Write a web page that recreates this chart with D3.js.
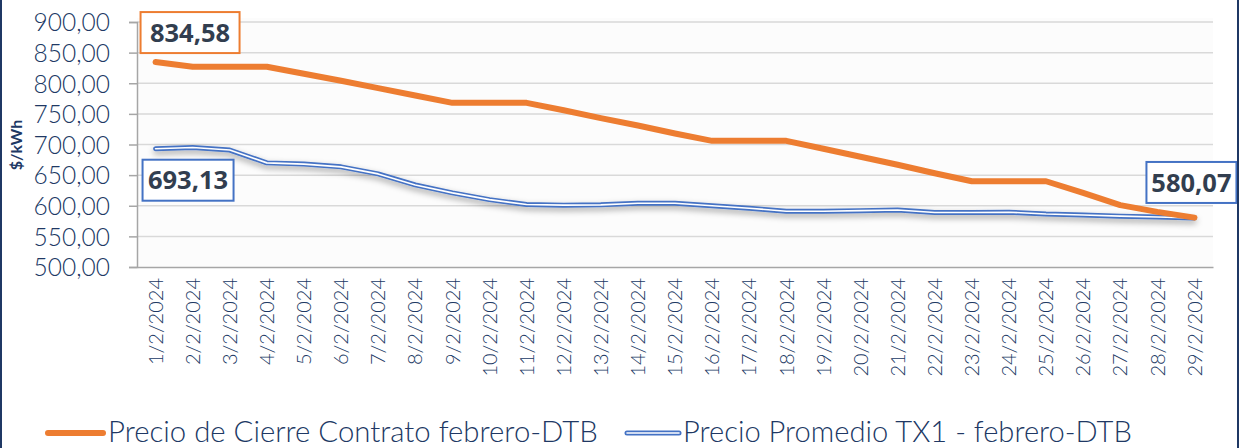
<!DOCTYPE html>
<html><head><meta charset="utf-8">
<script src="https://cdn.jsdelivr.net/npm/d3@7/dist/d3.min.js"></script>
<style>html,body{margin:0;padding:0;background:#fff;}svg{display:block;}</style>
</head><body>
<svg id="chart" width="1241" height="448"></svg>
<script>
const dates = ["1/2/2024","2/2/2024","3/2/2024","4/2/2024","5/2/2024","6/2/2024","7/2/2024","8/2/2024","9/2/2024","10/2/2024","11/2/2024","12/2/2024","13/2/2024","14/2/2024","15/2/2024","16/2/2024","17/2/2024","18/2/2024","19/2/2024","20/2/2024","21/2/2024","22/2/2024","23/2/2024","24/2/2024","25/2/2024","26/2/2024","27/2/2024","28/2/2024","29/2/2024"];
const cierre = [834.58,827,827,827,815.5,804,792,780,768,768,768,756,743,731,718,706,706,706,693,680,667,653,640,640,640,621,601,590,580.6];
const promedio = [693.13,695,691,670,668,663.5,652,634,621,610,602,601,601.5,604,604,600,596,591,591,592,593,589,589,589.5,586.5,585,583,581.7,580.07];
const yTicks = [500,550,600,650,700,750,800,850,900];
const seriesNames = ["Precio de Cierre Contrato febrero-DTB","Precio Promedio TX1 - febrero-DTB"];
const labels = [
  {series:0, idx:0, text:"834,58"},
  {series:1, idx:0, text:"693,13"},
  {series:1, idx:28, text:"580,07"}
];

(function(){
const svg = d3.select("#chart");
const navy = "#203864";
const orange = "#ED7D31";
const blue = "#4472C4";
const fmt = v => d3.format(".2f")(v).replace(".", ",");

const pL = 137, pR = 1213, pT = 22, pB = 267;
const x = d3.scaleBand().domain(dates).range([pL, pR]).padding(0);
const y = d3.scaleLinear().domain([500, 900]).range([pB, pT]);
const cx = d => x(d) + x.bandwidth()/2;

const defs = svg.append("defs");
const f = defs.append("filter").attr("id","sh").attr("x","-10%").attr("y","-50%").attr("width","120%").attr("height","200%");
f.append("feDropShadow").attr("dx",0).attr("dy",3).attr("stdDeviation",3).attr("flood-color","#000").attr("flood-opacity",0.35);

svg.append("rect").attr("x",pL).attr("y",pT-4).attr("width",pR-pL).attr("height",pB-pT+4).attr("fill","#fcfcfc");

svg.append("g").selectAll("line").data(yTicks.filter(t=>t>500)).join("line")
  .attr("x1",pL).attr("x2",pR).attr("y1",d=>y(d)).attr("y2",d=>y(d))
  .attr("stroke","#d9d9d9").attr("stroke-width",1.5);

const yAxis = d3.axisLeft(y).tickValues(yTicks).tickSize(8).tickFormat(fmt);
const gy = svg.append("g").attr("transform",`translate(${pL},0)`).call(yAxis);
gy.select(".domain").attr("stroke","#a6a6a6").attr("stroke-width",1.5);
gy.selectAll(".tick line").attr("stroke","#a6a6a6").attr("stroke-width",1.5);
gy.selectAll(".tick text").attr("x",-27).attr("dy","0.36em").attr("fill",navy)
  .style("font-family","Lato").style("font-weight","300").style("font-size","24.5px");

const xAxis = d3.axisBottom(x).tickSize(0);
const gx = svg.append("g").attr("transform",`translate(0,${pB})`).call(xAxis);
gx.select(".domain").attr("stroke","#a6a6a6").attr("stroke-width",1.5);
gx.selectAll(".tick text")
  .attr("transform","translate(0,11) rotate(-90)")
  .attr("text-anchor","end").attr("x",0).attr("y",0).attr("dy","0.36em")
  .attr("fill",navy).style("font-family","Lato").style("font-weight","300").style("font-size","20px");

svg.append("text").attr("transform","translate(22,145) rotate(-90)")
  .attr("text-anchor","middle").attr("fill",navy)
  .style("font-family","Lato").style("font-weight","bold").style("font-size","16px")
  .text("$/kWh");

const line = d3.line().x((d,i)=>cx(dates[i])).y(d=>y(d));

const gb = svg.append("g").attr("filter","url(#sh)");
gb.append("path").datum(promedio).attr("d",line).attr("fill","none")
  .attr("stroke",blue).attr("stroke-width",5).attr("stroke-linecap","round").attr("stroke-linejoin","round");
svg.append("path").datum(promedio).attr("d",line).attr("fill","none")
  .attr("stroke","#fff").attr("stroke-width",1.6).attr("stroke-linecap","round").attr("stroke-linejoin","round");

svg.append("path").datum(cierre).attr("d",line).attr("fill","none")
  .attr("stroke",orange).attr("stroke-width",6).attr("stroke-linecap","round").attr("stroke-linejoin","round");

const series = [cierre, promedio];
const boxes = [
  {dx:-15, dy:-50, w:99, h:41},
  {dx:-13, dy:11, w:91, h:41},
  {dx:-48, dy:-56, w:90, h:41}
];
labels.forEach((l,i)=>{
  const px = cx(dates[l.idx]), py = y(series[l.series][l.idx]);
  const b = boxes[i];
  const col = l.series===0 ? orange : blue;
  svg.append("rect").attr("x",px+b.dx).attr("y",py+b.dy).attr("width",b.w).attr("height",b.h)
    .attr("fill","#fff").attr("stroke",col).attr("stroke-width",2);
  svg.append("text").attr("x",px+b.dx+b.w/2).attr("y",py+b.dy+b.h/2).attr("dy","0.36em")
    .attr("text-anchor","middle").attr("fill","#323e4f")
    .style("font-family","Open Sans").style("font-weight","bold").style("font-size","25.5px")
    .text(l.text);
});

function fitText(x0, baseline, txt, width){
  const t = svg.append("text").attr("x",0).attr("y",0).attr("fill",navy)
    .style("font-family","Lato").style("font-weight","300").style("font-size","28.5px").text(txt);
  const w = t.node().getComputedTextLength();
  t.attr("transform",`translate(${x0},${baseline}) scale(${width/w},1)`);
}
const ly = 433;
svg.append("line").attr("x1",48).attr("x2",103).attr("y1",ly).attr("y2",ly)
  .attr("stroke",orange).attr("stroke-width",6).attr("stroke-linecap","round");
fitText(108, 442, seriesNames[0], 490);
svg.append("line").attr("x1",627).attr("x2",679).attr("y1",ly).attr("y2",ly)
  .attr("stroke",blue).attr("stroke-width",5).attr("stroke-linecap","round");
svg.append("line").attr("x1",627).attr("x2",679).attr("y1",ly).attr("y2",ly)
  .attr("stroke","#fff").attr("stroke-width",1.6).attr("stroke-linecap","round");
fitText(683, 442, seriesNames[1], 449);

svg.append("line").attr("x1",1).attr("x2",1).attr("y1",0).attr("y2",448).attr("stroke","#1f3864").attr("stroke-width",2);
svg.append("line").attr("x1",1238).attr("x2",1238).attr("y1",0).attr("y2",448).attr("stroke","#1f3864").attr("stroke-width",2);
})();
</script>
</body></html>
